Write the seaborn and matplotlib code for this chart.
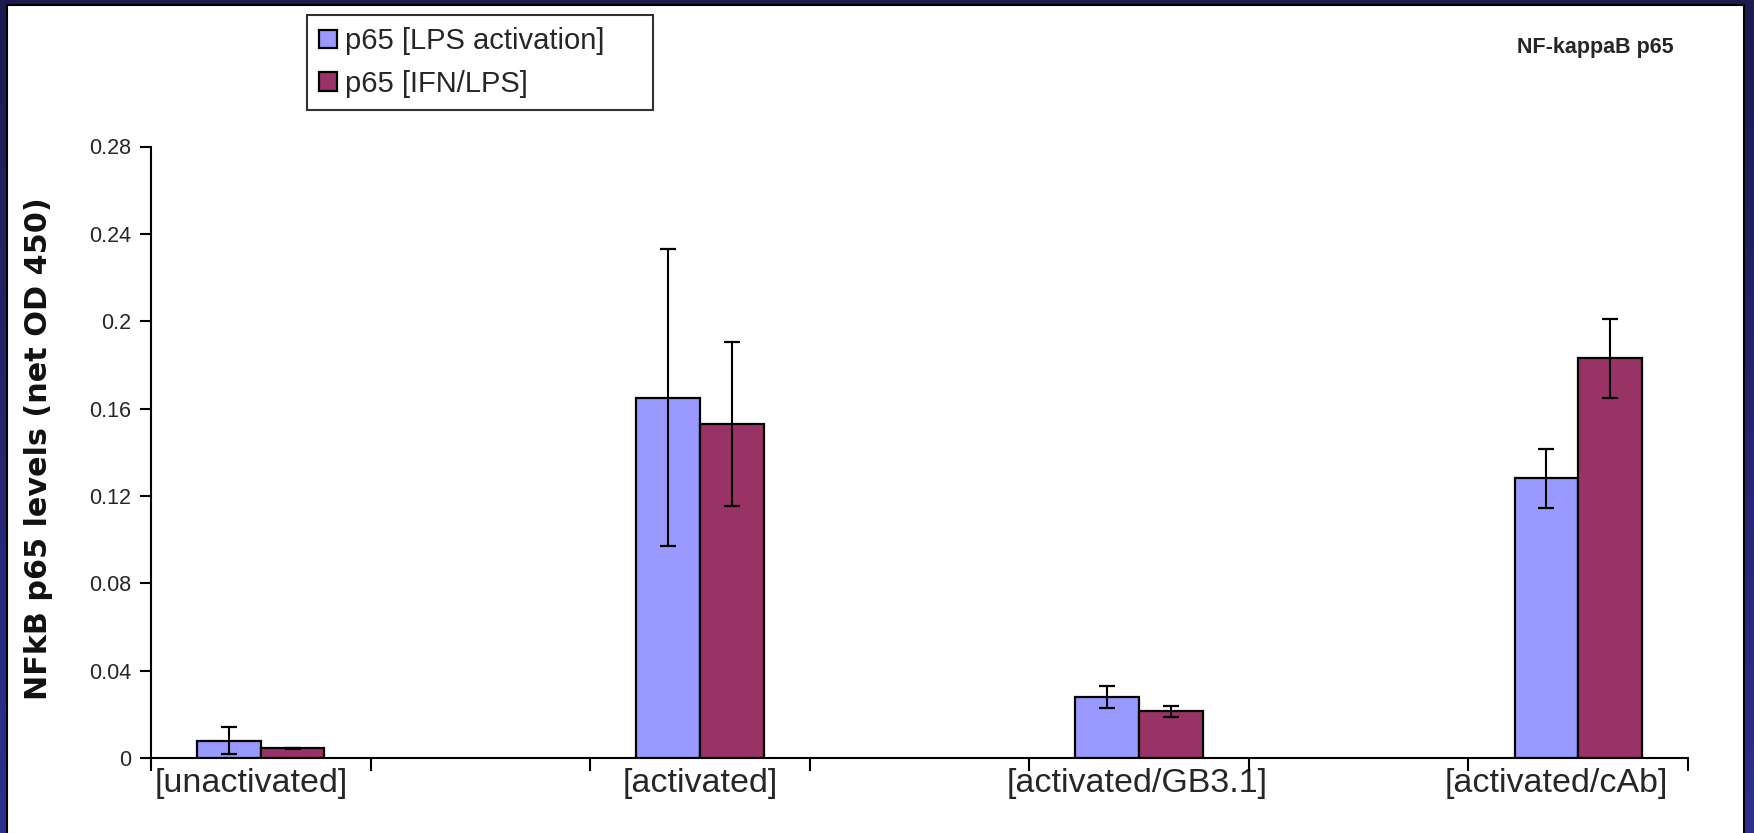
import numpy as np
import pandas as pd
import seaborn as sns
import matplotlib.pyplot as plt
from matplotlib.patches import Rectangle
from matplotlib.colors import LinearSegmentedColormap
from matplotlib.transforms import ScaledTranslation

# chart data
categories = ["[unactivated]", "[activated]", "[activated/GB3.1]", "[activated/cAb]"]
series = ["p65 [LPS activation]", "p65 [IFN/LPS]"]
lps_values = [0.008, 0.165, 0.028, 0.128]
lps_errors = [0.0063, 0.068, 0.005, 0.0135]
ifn_values = [0.0045, 0.153, 0.0215, 0.183]
ifn_errors = [0.0003, 0.0375, 0.0025, 0.018]
y_ticks = [0, 0.04, 0.08, 0.12, 0.16, 0.2, 0.24, 0.28]
y_tick_labels = ["0", "0.04", "0.08", "0.12", "0.16", "0.2", "0.24", "0.28"]

colors = ["#9999FF", "#993366"]

# empty slots between the groups
order = [categories[0], "gap1", categories[1], "gap2", categories[2], "gap3", categories[3]]
# small horizontal nudges (px) of the category labels, as in the original
label_shift = [-10, 0, 0, 0, -2, 0, -22]

df = pd.DataFrame({
    "category": categories * 2,
    "series": [series[0]] * 4 + [series[1]] * 4,
    "value": lps_values + ifn_values,
})
errors = {series[0]: lps_errors, series[1]: ifn_errors}

sns.set_theme(style="white")
plt.rcParams["font.family"] = ["Liberation Sans", "DejaVu Sans"]

W, H = 1754, 833
fig = plt.figure(figsize=(W / 100, H / 100), dpi=100)

# dark blue frame with white panel
bg = fig.add_axes([0, 0, 1, 1], zorder=-10)
cmap = LinearSegmentedColormap.from_list("frame", ["#1b1b4f", "#2f2f8f"])
bg.imshow(np.linspace(0, 1, 256).reshape(-1, 1), aspect="auto", cmap=cmap,
          extent=(0, 1, 0, 1), origin="upper")
bg.add_patch(Rectangle((7 / W, -0.01), (1744 - 7) / W, 1.01 - 5 / H,
                       transform=fig.transFigure, facecolor="white",
                       edgecolor="black", linewidth=1.5, zorder=5))
bg.set_xlim(0, 1)
bg.set_ylim(0, 1)
bg.axis("off")

ax = fig.add_axes([151 / W, 1 - 758 / H, (1688 - 151) / W, (758 - 146.5) / H], zorder=1)
ax.set_facecolor("none")

sns.barplot(data=df, x="category", y="value", hue="series", order=order,
            hue_order=series, palette=colors, saturation=1, width=0.58,
            errorbar=None, edgecolor="black", linewidth=1.6, legend=False, ax=ax)

# error bars from the drawn bars
for cont, name in zip(ax.containers, series):
    xs = [b.get_x() + b.get_width() / 2 for b in cont]
    ys = [b.get_height() for b in cont]
    ax.errorbar(xs, ys, yerr=errors[name], fmt="none", ecolor="black",
                elinewidth=1.5, capsize=5.8, capthick=1.6, zorder=5)

ax.set_ylim(0, 0.28)
ax.set_xlim(-0.5, 6.5)
ax.set_yticks(y_ticks)
ax.set_yticklabels(y_tick_labels, fontsize=15.5)
ax.set_xticks(range(len(order)))
ax.set_xticklabels([c if not c.startswith("gap") else "" for c in order], fontsize=24.5)
ax.set_xticks(np.arange(-0.5, 7, 1), minor=True)
ax.tick_params(axis="x", which="major", length=0, pad=7)
ax.tick_params(axis="x", which="minor", length=9, width=1.5, color="black", bottom=True)
ax.tick_params(axis="y", length=8, width=1.5, color="black", left=True, pad=6)
# nudge after tick_params, which resets the label transforms
for lab, dx in zip(ax.get_xticklabels(), label_shift):
    lab.set_transform(lab.get_transform() + ScaledTranslation(dx / 100, 0, fig.dpi_scale_trans))
ax.set_xlabel("")
ax.set_ylabel("")
sns.despine(ax=ax)
for s in ["left", "bottom"]:
    ax.spines[s].set_color("black")
    ax.spines[s].set_linewidth(1.5)

fig.text(39 / W, 1 - 449 / H, "NFkB p65 levels (net OD 450)", rotation=90,
         ha="center", va="center", fontsize=21.8, fontweight="bold",
         family="DejaVu Sans", color="#111111")

fig.text(1595 / W, 1 - 47 / H, "NF-kappaB p65", ha="center", va="center",
         fontsize=15.5, fontweight="bold")

leg = fig.legend(handles=ax.containers, labels=series, loc="upper left",
                 bbox_to_anchor=(307 / W, 1 - 109 / H, 346 / W, 94 / H),
                 mode="expand", fontsize=21,
                 frameon=True, fancybox=False, edgecolor="black",
                 handlelength=0.62, handleheight=0.62, handletextpad=0.27,
                 labelspacing=0.5, borderpad=0.42, borderaxespad=0)
leg.get_frame().set_linewidth(1.5)

fig.savefig("out.png", dpi=100)
